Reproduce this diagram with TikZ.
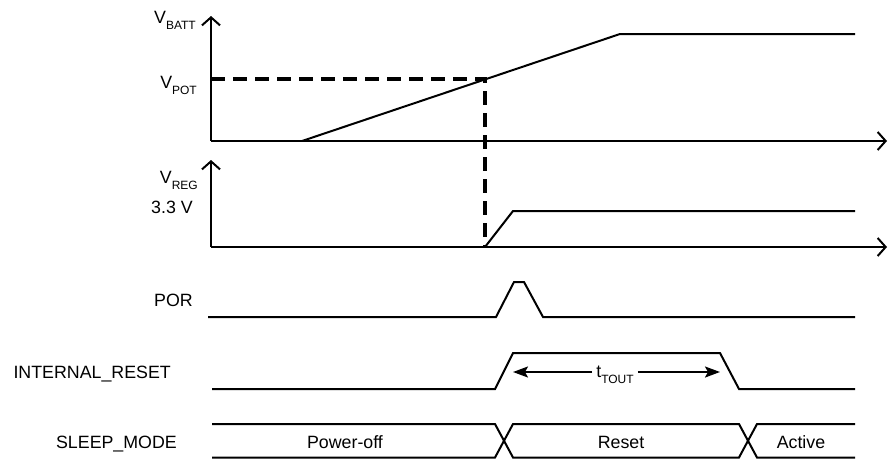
\documentclass[tikz,border=0pt]{standalone}
\usepackage{fontspec}
\setmainfont{Liberation Sans}
\usetikzlibrary{arrows.meta, positioning}
\tikzstyle{signal} = [line width=2pt, line join=miter]
\tikzstyle{axis} = [line width=2pt, -{Straight Barb[length=8pt,width=18pt,line width=2pt]}]
\tikzstyle{threshold} = [line width=3.5pt, dash pattern=on 14pt off 8pt]
\tikzstyle{dimline} = [line width=2pt, -{Stealth[length=15pt,width=11pt,inset=3pt]}]
\tikzstyle{lbl} = [inner sep=0pt, anchor=base east, font=\fontsize{17.8}{20}\selectfont]
\tikzstyle{phase} = [inner sep=0pt, anchor=base, font=\fontsize{17.8}{20}\selectfont]
\newcommand{\lowsub}[1]{\raisebox{-6pt}{\fontsize{12}{14}\selectfont #1}}

\begin{document}
\begin{tikzpicture}[x=1pt, y=-1pt]
	\useasboundingbox (0,0) rectangle (888,458);
	% axes
	\coordinate (batt0) at (211,141);
	\coordinate (battY) at (211,16);
	\coordinate (battX) at (887,141);
	\coordinate (reg0) at (211,247);
	\coordinate (regY) at (211,160);
	\coordinate (regX) at (887,247);
	\draw[axis] (batt0) -- (battY);
	\draw[axis] (batt0) -- (battX);
	\draw[axis] (reg0) -- (regY);
	\draw[axis] (reg0) -- (regX);
	
	\node[lbl] (vbatt) at (196,23) {V\lowsub{BATT}};
	\node[lbl] (vpot) at (197,88) {V\lowsub{POT}};
	\node[lbl] (vreg) at (198,183) {V\lowsub{REG}};
	\node[lbl] (v33) at (193,213) {3.3 V};
	\node[lbl] (por) at (193,306) {POR};
	\node[lbl] (intreset) at (171,378) {INTERNAL\_RESET};
	\node[lbl] (sleep) at (177,448) {SLEEP\_MODE};
	
	% threshold crossing
	\coordinate (pot) at (485,79);
	\draw[threshold] (pot-|batt0) -- (pot) -- (pot|-reg0);
	
	% waveforms
	\draw[signal] (302,141) -- (620,34) -- (855,34);
	\draw[signal] (pot|-reg0) -- (513,211) -- (855,211);
	\draw[signal] (208,317) -- (496,317) -- (514,282) -- (524,282) -- (543,317) -- (855,317);
	\draw[signal] (212,389) -- (495,389) -- (513,353) -- (720,353) -- (739,389) -- (855,389);
	
	\coordinate (toutL) at (513,372);
	\coordinate (toutR) at (720,372);
	\node[inner sep=4pt, font=\fontsize{17.8}{20}\selectfont] (tout) at (615,375) {t\lowsub{TOUT}};
	\draw[dimline] (toutL-|tout.west) -- (toutL);
	\draw[dimline] (toutR-|tout.east) -- (toutR);
	
	% sleep mode bus
	\draw[signal] (212,424) -- (495,424) -- (513,457.5) -- (739,457.5) -- (757,424) -- (855,424);
	\draw[signal] (212,457.5) -- (495,457.5) -- (513,424) -- (739,424) -- (757,457.5) -- (855,457.5);
	\node[phase] (poweroff) at (345,448) {Power-off};
	\node[phase] (reset) at (621,448) {Reset};
	\node[phase] (active) at (801,448) {Active};
\end{tikzpicture}
\end{document}
